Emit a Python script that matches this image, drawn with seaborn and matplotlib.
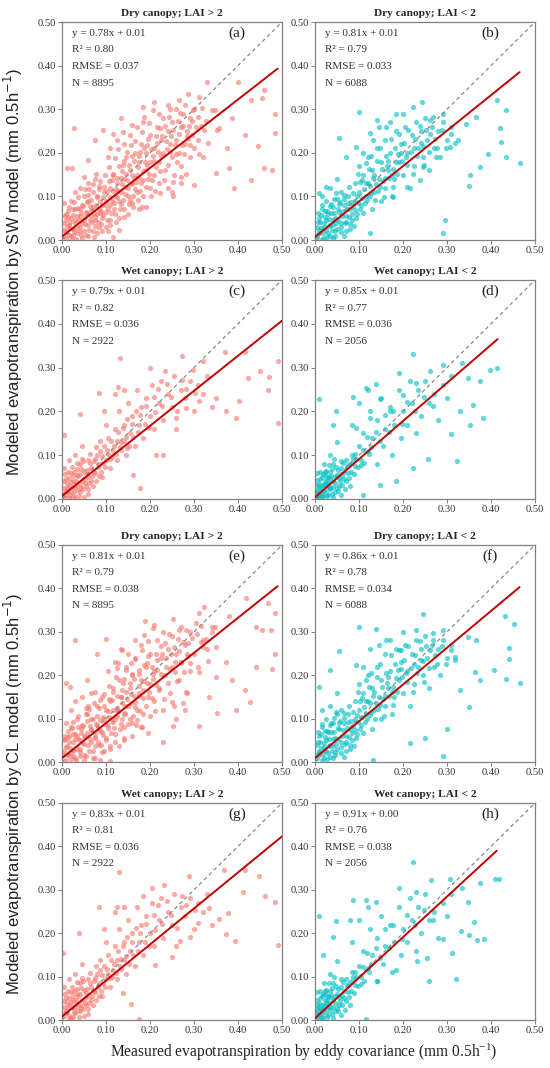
import matplotlib
matplotlib.use("Agg")
import matplotlib.pyplot as plt
import numpy as np
import pandas as pd
import seaborn as sns

# ---------------- data ----------------
titles = ["Dry canopy; LAI > 2", "Dry canopy; LAI < 2",
          "Wet canopy; LAI > 2", "Wet canopy; LAI < 2",
          "Dry canopy; LAI > 2", "Dry canopy; LAI < 2",
          "Wet canopy; LAI > 2", "Wet canopy; LAI < 2"]
letters = ["(a)", "(b)", "(c)", "(d)", "(e)", "(f)", "(g)", "(h)"]
equations = ["y = 0.78x + 0.01", "y = 0.81x + 0.01", "y = 0.79x + 0.01", "y = 0.85x + 0.01",
             "y = 0.81x + 0.01", "y = 0.86x + 0.01", "y = 0.83x + 0.01", "y = 0.91x + 0.00"]
r2_values = ["0.80", "0.79", "0.82", "0.77", "0.79", "0.78", "0.81", "0.76"]
rmse_values = ["0.037", "0.033", "0.036", "0.036", "0.038", "0.034", "0.036", "0.038"]
n_values = ["8895", "6088", "2922", "2056", "8895", "6088", "2922", "2056"]
# fitted line end points: (x0, y0, x1, y1)
fit_lines = [(0, 0.008, 0.49, 0.393), (0, 0.007, 0.465, 0.385),
             (0, 0.007, 0.50, 0.407), (0, 0.004, 0.415, 0.365),
             (0, 0.009, 0.49, 0.405), (0, 0.009, 0.465, 0.403),
             (0, 0.008, 0.50, 0.423), (0, 0.004, 0.413, 0.390)]
lai_group = [">2", "<2", ">2", "<2", ">2", "<2", ">2", "<2"]

tick_values = [0.0, 0.1, 0.2, 0.3, 0.4, 0.5]
tick_labels = ["0.00", "0.10", "0.20", "0.30", "0.40", "0.50"]

# (measured, modeled) pairs: a hand-read representative sample of each cloud
pts_a = [(0.005,0.01),(0.01,0.005),(0.01,0.02),(0.015,0.035),(0.02,0.01),(0.02,0.05),(0.025,0.025),
         (0.03,0.04),(0.03,0.07),(0.035,0.015),(0.04,0.03),(0.04,0.055),(0.045,0.08),(0.05,0.02),
         (0.05,0.045),(0.055,0.065),(0.06,0.035),(0.06,0.09),(0.065,0.055),(0.07,0.02),(0.07,0.075),
         (0.075,0.045),(0.08,0.06),(0.08,0.1),(0.085,0.03),(0.09,0.08),(0.09,0.05),(0.095,0.11),
         (0.1,0.065),(0.1,0.09),(0.005,0.04),(0.01,0.06),(0.02,0.09),(0.03,0.11),(0.04,0.12),
         (0.05,0.1),(0.06,0.13),(0.07,0.11),(0.075,0.14),(0.085,0.125),(0.015,0.075),(0.045,0.005),
         (0.06,0.01),(0.08,0.015),(0.1,0.03),(0.11,0.045),(0.105,0.02),
         (0.11,0.08),(0.11,0.12),(0.115,0.15),(0.12,0.1),(0.12,0.06),(0.125,0.13),(0.13,0.09),
         (0.13,0.17),(0.135,0.11),(0.14,0.07),(0.14,0.14),(0.145,0.19),(0.15,0.12),(0.15,0.1),
         (0.155,0.16),(0.16,0.085),(0.16,0.13),(0.165,0.2),(0.17,0.11),(0.17,0.15),(0.175,0.18),
         (0.18,0.13),(0.18,0.22),(0.185,0.1),(0.19,0.16),(0.19,0.2),(0.195,0.14),(0.2,0.12),
         (0.2,0.18),(0.2,0.24),(0.105,0.19),(0.11,0.21),(0.125,0.23),(0.14,0.22),(0.155,0.24),
         (0.17,0.26),(0.185,0.27),(0.13,0.05),(0.15,0.06),(0.175,0.07),
         (0.21,0.15),(0.21,0.21),(0.215,0.26),(0.22,0.13),(0.22,0.18),(0.225,0.23),(0.23,0.2),
         (0.23,0.28),(0.235,0.16),(0.24,0.25),(0.24,0.12),(0.245,0.22),(0.25,0.19),(0.25,0.27),
         (0.255,0.15),(0.26,0.23),(0.26,0.3),(0.265,0.2),(0.27,0.26),(0.27,0.17),(0.275,0.29),
         (0.28,0.22),(0.285,0.25),(0.29,0.19),(0.29,0.28),(0.295,0.24),(0.3,0.21),(0.3,0.3),
         (0.305,0.26),(0.31,0.23),(0.22,0.29),(0.245,0.3),(0.28,0.31),(0.25,0.11),(0.27,0.13),
         (0.028,0.256),(0.33,0.363),(0.40,0.363),(0.46,0.343),(0.485,0.29),(0.455,0.325),
         (0.43,0.32),(0.485,0.245),(0.445,0.215),(0.458,0.165),(0.478,0.16),(0.43,0.137),
         (0.39,0.12),(0.417,0.24),(0.375,0.21),(0.38,0.165),(0.35,0.153),(0.32,0.19),
         (0.357,0.256),(0.387,0.279),(0.342,0.298),(0.30,0.126),(0.27,0.145),(0.252,0.10),
         (0.222,0.107),(0.192,0.076),(0.162,0.076),(0.13,0.023),(0.117,0.008),(0.086,0.061),
         (0.004,0.084),(0.011,0.164),(0.023,0.164),(0.049,0.145),(0.06,0.183),(0.075,0.229),
         (0.094,0.252),(0.117,0.244),(0.135,0.279),(0.158,0.263),(0.184,0.305),(0.21,0.317),
         (0.24,0.309),(0.267,0.32),(0.286,0.336),(0.312,0.328),(0.297,0.298)]
dense_a = [(0.012,0.031),(0.008,0.047),(0.014,0.066),(0.022,0.002),(0.018,0.041),(0.024,0.072),
           (0.032,0.003),(0.028,0.021),(0.033,0.056),(0.027,0.087),(0.043,0.011),(0.038,0.046),
           (0.042,0.071),(0.037,0.098),(0.052,0.036),(0.048,0.077),(0.053,0.118),(0.062,0.022),
           (0.057,0.061),(0.063,0.077),(0.058,0.104),(0.072,0.006),(0.068,0.042),(0.073,0.061),
           (0.067,0.092),(0.071,0.128),(0.082,0.042),(0.078,0.081),(0.083,0.118),(0.077,0.152),
           (0.092,0.021),(0.088,0.066),(0.093,0.098),(0.087,0.136),(0.102,0.046),(0.098,0.081),
           (0.103,0.112),(0.097,0.148),(0.112,0.062),(0.108,0.098),(0.113,0.137),(0.107,0.168),
           (0.122,0.042),(0.118,0.086),(0.123,0.118),(0.117,0.152),(0.121,0.188),(0.132,0.072),
           (0.128,0.112),(0.133,0.142),(0.127,0.208),(0.142,0.052),(0.138,0.092),(0.143,0.122),
           (0.137,0.158),(0.141,0.182),(0.138,0.248),(0.152,0.082),(0.148,0.138),(0.153,0.172),
           (0.147,0.202),(0.162,0.102),(0.158,0.148),(0.163,0.182),(0.157,0.218),(0.172,0.092),
           (0.168,0.132),(0.173,0.168),(0.167,0.228),(0.182,0.076),(0.178,0.112),(0.183,0.158),
           (0.177,0.202),(0.181,0.248),(0.192,0.122),(0.188,0.178),(0.193,0.218),(0.187,0.282),
           (0.202,0.102),(0.198,0.152),(0.203,0.208),(0.197,0.268),(0.212,0.112),(0.208,0.182),
           (0.213,0.238),(0.207,0.298),(0.222,0.158),(0.218,0.202),(0.223,0.258),(0.232,0.138),
           (0.228,0.238),(0.233,0.262),(0.242,0.172),(0.238,0.208),(0.243,0.282),(0.252,0.132),
           (0.248,0.238),(0.253,0.252),(0.262,0.178),(0.258,0.198),(0.263,0.272),(0.272,0.218),
           (0.268,0.292),(0.282,0.152),(0.278,0.198),(0.283,0.238),(0.292,0.218),(0.288,0.262),
           (0.312,0.198),(0.308,0.282),(0.322,0.252),(0.318,0.302),(0.332,0.222),(0.328,0.272),
           (0.352,0.252),(0.348,0.298)]
core_a = [(0.004,0.022),(0.006,0.055),(0.016,0.012),(0.013,0.052),(0.019,0.028),(0.024,0.058),
          (0.026,0.011),(0.029,0.047),(0.034,0.027),(0.036,0.074),(0.041,0.021),(0.044,0.062),
          (0.046,0.039),(0.054,0.012),(0.053,0.052),(0.056,0.088),(0.064,0.047),(0.066,0.068),
          (0.061,0.116),(0.074,0.032),(0.076,0.053),(0.079,0.098),(0.084,0.071),(0.086,0.09),
          (0.089,0.036),(0.094,0.058),(0.096,0.122),(0.104,0.072),(0.106,0.136),(0.109,0.034),
          (0.114,0.09),(0.116,0.112),(0.119,0.072),(0.124,0.142),(0.126,0.098),(0.134,0.082),
          (0.136,0.128),(0.139,0.172),(0.144,0.106),(0.146,0.152),(0.154,0.092),(0.156,0.128),
          (0.159,0.192),(0.164,0.142),(0.166,0.118),(0.174,0.142),(0.176,0.192),(0.184,0.138),
          (0.186,0.212),(0.194,0.172),(0.196,0.232),(0.204,0.138),(0.206,0.192),(0.214,0.168),
          (0.216,0.222),(0.226,0.192),(0.236,0.228),(0.246,0.202),(0.256,0.218),(0.266,0.242),
          (0.276,0.262),(0.286,0.232),(0.296,0.272),(0.316,0.262)]

pts_b = [(0.005,0.005),(0.005,0.03),(0.01,0.015),(0.01,0.05),(0.015,0.07),(0.02,0.005),(0.02,0.03),
         (0.025,0.045),(0.025,0.09),(0.03,0.015),(0.03,0.06),(0.035,0.035),(0.04,0.005),(0.04,0.075),
         (0.045,0.05),(0.05,0.025),(0.05,0.095),(0.055,0.065),(0.06,0.04),(0.06,0.11),(0.065,0.08),
         (0.07,0.055),(0.07,0.02),(0.075,0.1),(0.08,0.07),(0.085,0.045),(0.09,0.09),(0.09,0.13),
         (0.095,0.06),(0.1,0.11),(0.015,0.1),(0.035,0.12),(0.05,0.14),(0.045,0.01),(0.065,0.01),
         (0.08,0.025),
         (0.105,0.08),(0.11,0.15),(0.115,0.1),(0.12,0.13),(0.12,0.19),(0.13,0.07),(0.13,0.16),
         (0.135,0.11),(0.14,0.21),(0.145,0.14),(0.15,0.09),(0.15,0.18),(0.16,0.12),(0.16,0.23),
         (0.165,0.16),(0.17,0.2),(0.175,0.1),(0.18,0.14),(0.185,0.25),(0.19,0.18),(0.195,0.22),
         (0.2,0.15),(0.205,0.26),(0.21,0.2),(0.215,0.12),(0.22,0.24),(0.225,0.17),(0.23,0.27),
         (0.235,0.21),(0.24,0.25),(0.245,0.19),(0.25,0.28),(0.255,0.23),(0.26,0.16),(0.265,0.26),
         (0.27,0.21),(0.28,0.25),(0.285,0.19),(0.29,0.27),(0.3,0.23),(0.31,0.26),(0.1,0.17),
         (0.11,0.2),(0.125,0.245),(0.145,0.26),(0.17,0.27),(0.2,0.29),
         (0.10,0.294),(0.055,0.235),(0.14,0.276),(0.244,0.317),(0.223,0.305),(0.185,0.29),
         (0.413,0.32),(0.434,0.299),(0.42,0.256),(0.423,0.225),(0.466,0.176),(0.435,0.19),
         (0.394,0.198),(0.375,0.168),(0.352,0.149),(0.35,0.124),(0.295,0.046),(0.291,0.015),
         (0.367,0.282),(0.344,0.267),(0.326,0.229),(0.306,0.214),(0.276,0.191),(0.246,0.168),
         (0.238,0.137),(0.208,0.122),(0.177,0.099),(0.124,0.015),(0.01,0.107),(0.025,0.122),
         (0.291,0.29),(0.261,0.275),(0.162,0.26),(0.132,0.229),(0.094,0.214),(0.071,0.191)]
dense_b = [(0.008,0.022),(0.012,0.041),(0.007,0.062),(0.018,0.016),(0.022,0.052),(0.017,0.081),
           (0.028,0.006),(0.032,0.032),(0.027,0.066),(0.033,0.078),(0.038,0.022),(0.042,0.047),
           (0.037,0.062),(0.043,0.094),(0.048,0.038),(0.052,0.072),(0.047,0.108),(0.058,0.018),
           (0.062,0.056),(0.057,0.088),(0.068,0.038),(0.072,0.072),(0.067,0.104),(0.078,0.052),
           (0.082,0.088),(0.077,0.121),(0.088,0.032),(0.092,0.068),(0.087,0.108),(0.098,0.086),
           (0.102,0.132),(0.097,0.152),(0.108,0.062),(0.112,0.118),(0.107,0.138),(0.118,0.092),
           (0.122,0.162),(0.117,0.176),(0.128,0.108),(0.132,0.142),(0.127,0.192),(0.138,0.128),
           (0.142,0.182),(0.137,0.092),(0.148,0.122),(0.152,0.162),(0.147,0.212),(0.158,0.142),
           (0.162,0.192),(0.157,0.098),(0.168,0.142),(0.172,0.232),(0.167,0.182),(0.178,0.162),
           (0.182,0.212),(0.177,0.122),(0.188,0.198),(0.192,0.242),(0.187,0.152),(0.198,0.182),
           (0.202,0.222),(0.208,0.172),(0.212,0.252),(0.218,0.202),(0.222,0.152),(0.228,0.232),
           (0.232,0.192),(0.238,0.262),(0.242,0.222),(0.248,0.172),(0.252,0.252),(0.258,0.202),
           (0.262,0.242),(0.268,0.282),(0.272,0.232),(0.278,0.212),(0.288,0.252),(0.298,0.212),
           (0.308,0.242),(0.318,0.222)]
core_b = [(0.004,0.012),(0.006,0.042),(0.013,0.028),(0.014,0.058),(0.016,0.002),(0.021,0.04),
          (0.023,0.066),(0.026,0.022),(0.031,0.048),(0.034,0.009),(0.036,0.083),(0.041,0.034),
          (0.044,0.062),(0.046,0.021),(0.053,0.047),(0.055,0.082),(0.059,0.03),(0.063,0.067),
          (0.066,0.094),(0.071,0.042),(0.074,0.085),(0.079,0.036),(0.083,0.06),(0.086,0.077),
          (0.093,0.05),(0.096,0.1),(0.103,0.07),(0.106,0.096),(0.113,0.085),(0.116,0.13),
          (0.124,0.1),(0.126,0.125),(0.134,0.15),(0.143,0.112),(0.154,0.135),(0.163,0.17),
          (0.174,0.15),(0.184,0.18),(0.196,0.2),(0.206,0.19),(0.226,0.21),(0.246,0.215)]

pts_c = [(0.005,0.005),(0.005,0.025),(0.01,0.045),(0.01,0.01),(0.015,0.03),(0.02,0.06),(0.02,0.015),
         (0.025,0.04),(0.03,0.005),(0.03,0.025),(0.035,0.055),(0.04,0.015),(0.04,0.08),(0.045,0.04),
         (0.05,0.065),(0.05,0.005),(0.055,0.03),(0.06,0.05),(0.06,0.09),(0.065,0.07),(0.07,0.03),
         (0.075,0.06),(0.08,0.1),(0.085,0.08),(0.09,0.05),(0.095,0.12),(0.1,0.09),(0.005,0.07),
         (0.015,0.09),(0.03,0.1),(0.045,0.12),
         (0.105,0.14),(0.11,0.07),(0.115,0.11),(0.12,0.16),(0.125,0.09),(0.13,0.2),(0.135,0.13),
         (0.14,0.17),(0.145,0.1),(0.15,0.22),(0.155,0.15),(0.16,0.19),(0.165,0.12),(0.17,0.25),
         (0.175,0.17),(0.18,0.21),(0.185,0.14),(0.19,0.23),(0.2,0.19),(0.205,0.26),(0.21,0.16),
         (0.22,0.22),(0.225,0.27),(0.23,0.18),(0.24,0.24),(0.25,0.21),(0.255,0.28),(0.26,0.16),
         (0.27,0.25),(0.28,0.23),(0.29,0.27),(0.3,0.2),(0.31,0.26),(0.32,0.24),(0.33,0.28),
         (0.34,0.21),(0.12,0.24),(0.14,0.25),(0.095,0.2),(0.1,0.17),
         (0.132,0.321),(0.273,0.326),(0.005,0.147),(0.041,0.194),(0.085,0.242),(0.128,0.255),
         (0.2,0.30),(0.233,0.292),(0.297,0.295),(0.321,0.315),(0.37,0.335),(0.417,0.335),
         (0.423,0.276),(0.402,0.223),(0.395,0.185),(0.372,0.20),(0.35,0.23),(0.45,0.292),
         (0.47,0.278),(0.468,0.248),(0.492,0.173),(0.49,0.316),(0.312,0.223),(0.282,0.208),
         (0.259,0.185),(0.23,0.101),(0.214,0.101),(0.177,0.024),(0.162,0.055),(0.147,0.116)]
dense_c = [(0.008,0.018),(0.012,0.036),(0.007,0.056),(0.018,0.008),(0.022,0.028),(0.017,0.047),
           (0.023,0.072),(0.028,0.016),(0.032,0.042),(0.027,0.062),(0.033,0.082),(0.038,0.006),
           (0.042,0.032),(0.037,0.052),(0.043,0.068),(0.048,0.022),(0.052,0.046),(0.047,0.086),
           (0.058,0.012),(0.062,0.036),(0.057,0.066),(0.063,0.102),(0.068,0.052),(0.072,0.086),
           (0.078,0.042),(0.082,0.072),(0.077,0.118),(0.088,0.062),(0.092,0.098),(0.087,0.132),
           (0.098,0.072),(0.102,0.112),(0.108,0.092),(0.112,0.132),(0.118,0.122),(0.122,0.102),
           (0.128,0.152),(0.132,0.118),(0.138,0.162),(0.142,0.132),(0.148,0.182),(0.152,0.122),
           (0.158,0.172),(0.162,0.142),(0.168,0.202),(0.172,0.152),(0.178,0.192),(0.188,0.172),
           (0.192,0.212),(0.198,0.162),(0.208,0.232),(0.212,0.198),(0.218,0.252),(0.228,0.212),
           (0.238,0.262),(0.248,0.232),(0.262,0.202),(0.272,0.272),(0.282,0.252),(0.302,0.242)]
core_c = [(0.003,0.012),(0.004,0.04),(0.011,0.024),(0.013,0.062),(0.015,0.002),(0.021,0.038),
          (0.024,0.052),(0.026,0.005),(0.031,0.033),(0.034,0.068),(0.036,0.02),(0.041,0.056),
          (0.044,0.026),(0.046,0.092),(0.053,0.036),(0.055,0.058),(0.059,0.022),(0.064,0.082),
          (0.067,0.042),(0.073,0.062),(0.076,0.092),(0.083,0.052),(0.086,0.11),(0.093,0.082),
          (0.104,0.102),(0.114,0.095),(0.124,0.132),(0.135,0.112),(0.146,0.142)]

pts_d = [(0.003,0.003),(0.005,0.02),(0.01,0.01),(0.01,0.035),(0.015,0.005),(0.015,0.05),(0.02,0.02),
         (0.025,0.035),(0.025,0.065),(0.03,0.01),(0.03,0.05),(0.035,0.025),(0.04,0.04),(0.04,0.08),
         (0.045,0.015),(0.05,0.055),(0.055,0.03),(0.06,0.07),(0.065,0.045),(0.07,0.09),(0.075,0.06),
         (0.08,0.03),(0.085,0.1),(0.09,0.075),(0.1,0.12),(0.005,0.06),(0.02,0.08),(0.035,0.1),
         (0.05,0.13),(0.06,0.01),
         (0.105,0.09),(0.11,0.15),(0.12,0.11),(0.125,0.2),(0.13,0.14),(0.14,0.08),(0.14,0.18),
         (0.15,0.23),(0.155,0.12),(0.16,0.16),(0.17,0.21),(0.175,0.1),(0.18,0.17),(0.19,0.25),
         (0.195,0.14),(0.2,0.2),(0.21,0.17),(0.215,0.27),(0.22,0.22),(0.23,0.15),(0.235,0.25),
         (0.24,0.19),(0.25,0.27),(0.26,0.22),(0.27,0.24),(0.28,0.18),(0.29,0.26),(0.3,0.23),
         (0.31,0.28),(0.085,0.17),(0.1,0.22),(0.12,0.25),
         (0.008,0.229),(0.048,0.20),(0.04,0.17),(0.086,0.234),(0.116,0.253),(0.138,0.263),
         (0.223,0.332),(0.192,0.288),(0.23,0.265),(0.261,0.292),(0.291,0.307),(0.333,0.311),
         (0.348,0.276),(0.375,0.269),(0.398,0.295),(0.413,0.299),(0.358,0.215),(0.382,0.185),
         (0.352,0.169),(0.329,0.20),(0.31,0.148),(0.322,0.087),(0.257,0.092),(0.223,0.07),
         (0.185,0.04),(0.147,0.032),(0.109,0.009),(0.147,0.229),(0.17,0.20),(0.2,0.238),
         (0.124,0.185),(0.094,0.162)]
dense_d = [(0.006,0.012),(0.009,0.027),(0.005,0.043),(0.013,0.018),(0.016,0.032),(0.012,0.062),
           (0.019,0.006),(0.022,0.042),(0.018,0.056),(0.026,0.016),(0.029,0.028),(0.024,0.052),
           (0.032,0.036),(0.035,0.062),(0.031,0.078),(0.038,0.012),(0.042,0.028),(0.037,0.052),
           (0.045,0.036),(0.048,0.072),(0.044,0.092),(0.052,0.018),(0.055,0.048),(0.058,0.086),
           (0.062,0.032),(0.066,0.062),(0.069,0.022),(0.072,0.072),(0.078,0.048),(0.082,0.082),
           (0.088,0.058),(0.092,0.102),(0.098,0.072),(0.108,0.112),(0.112,0.082),(0.118,0.142),
           (0.128,0.118),(0.138,0.152),(0.148,0.132),(0.158,0.192),(0.168,0.152),(0.178,0.202),
           (0.198,0.172),(0.208,0.222),(0.228,0.202),(0.248,0.232),(0.268,0.212)]
core_d = [(0.003,0.016),(0.004,0.032),(0.008,0.004),(0.011,0.046),(0.014,0.024),(0.017,0.014),
          (0.021,0.032),(0.023,0.062),(0.027,0.042),(0.028,0.006),(0.033,0.022),(0.034,0.048),
          (0.039,0.068),(0.041,0.004),(0.046,0.052),(0.049,0.026),(0.053,0.066),(0.057,0.04),
          (0.061,0.052),(0.064,0.082),(0.071,0.04),(0.076,0.078),(0.081,0.062),(0.086,0.092),
          (0.094,0.092),(0.104,0.078),(0.122,0.102)]

pts_e = [(0.005,0.015),(0.01,0.005),(0.01,0.035),(0.015,0.06),(0.02,0.02),(0.02,0.08),(0.025,0.045),
         (0.03,0.01),(0.03,0.065),(0.035,0.1),(0.04,0.03),(0.04,0.05),(0.045,0.085),(0.05,0.015),
         (0.05,0.06),(0.055,0.11),(0.06,0.04),(0.065,0.075),(0.07,0.025),(0.07,0.1),(0.075,0.055),
         (0.08,0.085),(0.08,0.13),(0.085,0.04),(0.09,0.07),(0.095,0.1),(0.1,0.055),(0.1,0.12),
         (0.005,0.05),(0.01,0.09),(0.02,0.12),(0.03,0.14),(0.045,0.15),(0.06,0.13),(0.065,0.16),
         (0.09,0.15),(0.05,0.005),(0.075,0.01),(0.095,0.025),(0.11,0.03),
         (0.105,0.085),(0.11,0.14),(0.115,0.17),(0.12,0.1),(0.12,0.065),(0.125,0.12),(0.13,0.19),
         (0.135,0.15),(0.14,0.08),(0.14,0.11),(0.145,0.22),(0.15,0.13),(0.155,0.17),(0.16,0.09),
         (0.16,0.2),(0.165,0.24),(0.17,0.12),(0.175,0.16),(0.18,0.19),(0.18,0.27),(0.185,0.11),
         (0.19,0.22),(0.195,0.15),(0.2,0.18),(0.2,0.25),(0.105,0.21),(0.12,0.23),(0.135,0.26),
         (0.15,0.25),(0.165,0.28),(0.14,0.05),(0.16,0.06),(0.18,0.08),
         (0.21,0.14),(0.21,0.21),(0.215,0.28),(0.22,0.17),(0.225,0.24),(0.23,0.12),(0.23,0.3),
         (0.235,0.2),(0.24,0.26),(0.245,0.16),(0.25,0.22),(0.25,0.29),(0.255,0.13),(0.26,0.25),
         (0.265,0.19),(0.27,0.31),(0.27,0.23),(0.28,0.27),(0.285,0.16),(0.29,0.21),(0.29,0.3),
         (0.3,0.25),(0.305,0.32),(0.31,0.22),(0.32,0.28),(0.33,0.26),(0.34,0.3),(0.26,0.1),
         (0.28,0.12),
         (0.03,0.282),(0.322,0.358),(0.419,0.379),(0.468,0.366),(0.485,0.343),(0.455,0.303),
         (0.44,0.311),(0.476,0.303),(0.485,0.25),(0.477,0.215),(0.44,0.219),(0.417,0.167),
         (0.395,0.12),(0.428,0.139),(0.387,0.189),(0.35,0.196),(0.372,0.23),(0.353,0.114),
         (0.312,0.082),(0.335,0.15),(0.274,0.135),(0.252,0.082),(0.229,0.047),(0.195,0.066),
         (0.169,0.085),(0.13,0.036),(0.109,0.002),(0.086,0.005),(0.008,0.182),(0.019,0.173),
         (0.056,0.19),(0.079,0.25),(0.10,0.284),(0.128,0.227),(0.189,0.326),(0.21,0.315),
         (0.252,0.33),(0.282,0.303),(0.312,0.344),(0.38,0.337),(0.342,0.311)]
dense_e = [(0.011,0.036),(0.007,0.052),(0.013,0.071),(0.021,0.006),(0.017,0.046),(0.023,0.078),
           (0.031,0.004),(0.027,0.027),(0.034,0.061),(0.026,0.093),(0.042,0.014),(0.037,0.052),
           (0.043,0.077),(0.036,0.106),(0.051,0.041),(0.047,0.083),(0.054,0.125),(0.061,0.026),
           (0.056,0.067),(0.064,0.083),(0.057,0.111),(0.071,0.009),(0.067,0.047),(0.074,0.067),
           (0.066,0.098),(0.072,0.136),(0.081,0.046),(0.077,0.087),(0.084,0.124),(0.076,0.162),
           (0.091,0.024),(0.087,0.071),(0.094,0.104),(0.086,0.143),(0.101,0.051),(0.097,0.087),
           (0.104,0.118),(0.096,0.156),(0.111,0.066),(0.107,0.104),(0.114,0.143),(0.106,0.176),
           (0.121,0.046),(0.117,0.092),(0.124,0.124),(0.116,0.161),(0.122,0.196),(0.131,0.077),
           (0.127,0.118),(0.134,0.149),(0.126,0.216),(0.141,0.056),(0.137,0.098),(0.144,0.129),
           (0.136,0.166),(0.142,0.191),(0.137,0.258),(0.151,0.087),(0.147,0.146),(0.154,0.181),
           (0.146,0.212),(0.161,0.107),(0.157,0.156),(0.164,0.191),(0.156,0.228),(0.171,0.097),
           (0.167,0.139),(0.174,0.176),(0.166,0.238),(0.181,0.081),(0.177,0.118),(0.184,0.166),
           (0.176,0.212),(0.182,0.258),(0.191,0.128),(0.187,0.186),(0.194,0.228),(0.186,0.292),
           (0.201,0.107),(0.197,0.161),(0.204,0.218),(0.196,0.278),(0.211,0.117),(0.207,0.191),
           (0.214,0.248),(0.206,0.308),(0.221,0.166),(0.217,0.212),(0.224,0.268),(0.231,0.146),
           (0.227,0.248),(0.234,0.274),(0.241,0.181),(0.237,0.218),(0.244,0.294),(0.251,0.139),
           (0.247,0.248),(0.254,0.264),(0.261,0.186),(0.257,0.208),(0.264,0.284),(0.271,0.228),
           (0.267,0.304),(0.281,0.161),(0.277,0.208),(0.284,0.248),(0.291,0.228),(0.287,0.274),
           (0.311,0.208),(0.307,0.294),(0.321,0.264),(0.317,0.314),(0.331,0.232),(0.327,0.284),
           (0.351,0.264),(0.347,0.312)]
core_e = [(0.004,0.026),(0.006,0.06),(0.016,0.015),(0.013,0.057),(0.019,0.032),(0.024,0.064),
          (0.026,0.013),(0.029,0.052),(0.034,0.031),(0.036,0.08),(0.041,0.024),(0.044,0.067),
          (0.046,0.043),(0.054,0.014),(0.053,0.057),(0.056,0.094),(0.064,0.052),(0.066,0.074),
          (0.061,0.123),(0.074,0.036),(0.076,0.058),(0.079,0.105),(0.084,0.077),(0.086,0.097),
          (0.089,0.04),(0.094,0.063),(0.096,0.13),(0.104,0.078),(0.106,0.145),(0.109,0.038),
          (0.114,0.097),(0.116,0.12),(0.119,0.078),(0.124,0.151),(0.126,0.105),(0.134,0.088),
          (0.136,0.136),(0.139,0.182),(0.144,0.113),(0.146,0.161),(0.154,0.098),(0.156,0.136),
          (0.159,0.203),(0.164,0.151),(0.166,0.126),(0.174,0.151),(0.176,0.203),(0.184,0.147),
          (0.186,0.224),(0.194,0.182),(0.196,0.245),(0.204,0.147),(0.206,0.203),(0.214,0.178),
          (0.216,0.234),(0.226,0.203),(0.236,0.24),(0.246,0.214),(0.256,0.23),(0.266,0.255),
          (0.276,0.276),(0.286,0.245),(0.296,0.286),(0.316,0.276)]

pts_f = [(0.005,0.01),(0.005,0.04),(0.01,0.02),(0.01,0.06),(0.015,0.08),(0.02,0.01),(0.02,0.035),
         (0.025,0.05),(0.025,0.1),(0.03,0.02),(0.03,0.07),(0.035,0.04),(0.04,0.01),(0.04,0.09),
         (0.045,0.055),(0.05,0.03),(0.05,0.11),(0.055,0.075),(0.06,0.045),(0.06,0.12),(0.065,0.09),
         (0.07,0.06),(0.07,0.025),(0.075,0.11),(0.08,0.075),(0.085,0.05),(0.09,0.1),(0.09,0.14),
         (0.095,0.065),(0.1,0.12),(0.015,0.12),(0.035,0.13),(0.05,0.16),(0.045,0.015),(0.065,0.012),
         (0.08,0.03),
         (0.105,0.085),(0.11,0.16),(0.115,0.11),(0.12,0.14),(0.12,0.2),(0.13,0.075),(0.13,0.17),
         (0.135,0.12),(0.14,0.22),(0.145,0.15),(0.15,0.1),(0.15,0.19),(0.16,0.13),(0.16,0.25),
         (0.165,0.17),(0.17,0.21),(0.175,0.11),(0.18,0.15),(0.185,0.26),(0.19,0.19),(0.195,0.23),
         (0.2,0.16),(0.205,0.27),(0.21,0.21),(0.215,0.13),(0.22,0.25),(0.225,0.18),(0.23,0.28),
         (0.235,0.22),(0.24,0.26),(0.245,0.2),(0.25,0.29),(0.255,0.24),(0.26,0.17),(0.265,0.27),
         (0.27,0.22),(0.28,0.26),(0.285,0.2),(0.29,0.28),(0.3,0.24),(0.31,0.27),(0.1,0.18),
         (0.11,0.22),(0.125,0.26),(0.145,0.27),(0.17,0.28),(0.2,0.3),
         (0.10,0.311),(0.055,0.256),(0.246,0.341),(0.23,0.303),(0.138,0.307),(0.162,0.28),
         (0.432,0.337),(0.453,0.318),(0.441,0.263),(0.441,0.238),(0.466,0.181),(0.434,0.192),
         (0.407,0.211),(0.375,0.189),(0.363,0.208),(0.35,0.127),(0.329,0.166),(0.299,0.076),
         (0.291,0.013),(0.249,0.055),(0.215,0.044),(0.132,0.005),(0.367,0.28),(0.348,0.288),
         (0.318,0.242),(0.291,0.303),(0.268,0.28),(0.196,0.257),(0.01,0.173),(0.033,0.211),
         (0.094,0.223)]
dense_f = [(0.008,0.026),(0.012,0.046),(0.007,0.068),(0.018,0.019),(0.022,0.057),(0.017,0.088),
           (0.028,0.008),(0.032,0.036),(0.027,0.072),(0.033,0.085),(0.038,0.025),(0.042,0.052),
           (0.037,0.068),(0.043,0.102),(0.048,0.042),(0.052,0.078),(0.047,0.116),(0.058,0.021),
           (0.062,0.061),(0.057,0.095),(0.068,0.042),(0.072,0.078),(0.067,0.112),(0.078,0.057),
           (0.082,0.095),(0.077,0.13),(0.088,0.036),(0.092,0.074),(0.087,0.116),(0.098,0.093),
           (0.102,0.141),(0.097,0.162),(0.108,0.067),(0.112,0.126),(0.107,0.148),(0.118,0.099),
           (0.122,0.173),(0.117,0.188),(0.128,0.116),(0.132,0.152),(0.127,0.205),(0.138,0.137),
           (0.142,0.195),(0.137,0.099),(0.148,0.131),(0.152,0.173),(0.147,0.226),(0.158,0.152),
           (0.162,0.205),(0.157,0.105),(0.168,0.152),(0.172,0.247),(0.167,0.195),(0.178,0.173),
           (0.182,0.226),(0.177,0.131),(0.188,0.212),(0.192,0.257),(0.187,0.162),(0.198,0.195),
           (0.202,0.236),(0.208,0.184),(0.212,0.268),(0.218,0.216),(0.222,0.162),(0.228,0.247),
           (0.232,0.205),(0.238,0.278),(0.242,0.236),(0.248,0.184),(0.252,0.268),(0.258,0.216),
           (0.262,0.257),(0.268,0.298),(0.272,0.247),(0.278,0.226),(0.288,0.268),(0.298,0.226),
           (0.308,0.257),(0.318,0.236)]
core_f = [(0.004,0.015),(0.006,0.047),(0.013,0.032),(0.014,0.064),(0.016,0.004),(0.021,0.044),
          (0.023,0.072),(0.026,0.025),(0.031,0.053),(0.034,0.011),(0.036,0.09),(0.041,0.038),
          (0.044,0.068),(0.046,0.024),(0.053,0.052),(0.055,0.089),(0.059,0.034),(0.063,0.073),
          (0.066,0.102),(0.071,0.047),(0.074,0.092),(0.079,0.04),(0.083,0.066),(0.086,0.084),
          (0.093,0.055),(0.096,0.108),(0.103,0.076),(0.106,0.104),(0.113,0.092),(0.116,0.14),
          (0.124,0.108),(0.126,0.135),(0.134,0.161),(0.143,0.121),(0.154,0.146),(0.163,0.183),
          (0.174,0.162),(0.184,0.194),(0.196,0.215),(0.206,0.204),(0.226,0.226),(0.246,0.232)]

pts_g = [(0.005,0.01),(0.005,0.03),(0.01,0.05),(0.01,0.015),(0.015,0.035),(0.02,0.065),(0.02,0.005),
         (0.025,0.045),(0.03,0.015),(0.03,0.03),(0.035,0.06),(0.04,0.02),(0.04,0.085),(0.045,0.045),
         (0.05,0.07),(0.05,0.01),(0.055,0.035),(0.06,0.055),(0.06,0.095),(0.065,0.075),(0.07,0.035),
         (0.075,0.065),(0.08,0.105),(0.085,0.085),(0.09,0.055),(0.095,0.125),(0.1,0.095),
         (0.005,0.075),(0.015,0.095),(0.03,0.105),(0.045,0.13),
         (0.105,0.15),(0.11,0.075),(0.115,0.115),(0.12,0.17),(0.125,0.095),(0.13,0.21),(0.135,0.14),
         (0.14,0.18),(0.145,0.105),(0.15,0.23),(0.155,0.16),(0.16,0.2),(0.165,0.125),(0.17,0.26),
         (0.175,0.18),(0.18,0.22),(0.185,0.15),(0.19,0.24),(0.2,0.2),(0.205,0.27),(0.21,0.17),
         (0.22,0.23),(0.225,0.28),(0.23,0.19),(0.24,0.25),(0.25,0.22),(0.255,0.29),(0.26,0.17),
         (0.27,0.26),(0.28,0.24),(0.29,0.28),(0.3,0.21),(0.31,0.27),(0.32,0.25),(0.33,0.29),
         (0.34,0.22),(0.12,0.25),(0.14,0.26),(0.095,0.21),(0.1,0.18),
         (0.129,0.342),(0.002,0.154),(0.038,0.20),(0.083,0.26),(0.126,0.26),(0.184,0.285),
         (0.204,0.303),(0.288,0.332),(0.232,0.312),(0.369,0.346),(0.416,0.346),(0.447,0.332),
         (0.412,0.296),(0.461,0.286),(0.483,0.273),(0.377,0.246),(0.373,0.198),(0.393,0.181),
         (0.356,0.232),(0.333,0.258),(0.269,0.181),(0.25,0.146),(0.211,0.127),(0.175,0.002),
         (0.156,0.038),(0.138,0.062),(0.49,0.172),(0.31,0.223),(0.291,0.192)]
dense_g = [(0.008,0.021),(0.012,0.04),(0.007,0.06),(0.018,0.01),(0.022,0.031),(0.017,0.051),
           (0.023,0.077),(0.028,0.019),(0.032,0.046),(0.027,0.066),(0.033,0.087),(0.038,0.008),
           (0.042,0.035),(0.037,0.056),(0.043,0.073),(0.048,0.025),(0.052,0.05),(0.047,0.091),
           (0.058,0.014),(0.062,0.04),(0.057,0.071),(0.063,0.108),(0.068,0.056),(0.072,0.091),
           (0.078,0.046),(0.082,0.077),(0.077,0.124),(0.088,0.066),(0.092,0.104),(0.087,0.139),
           (0.098,0.077),(0.102,0.118),(0.108,0.097),(0.112,0.139),(0.118,0.129),(0.122,0.108),
           (0.128,0.16),(0.132,0.124),(0.138,0.17),(0.142,0.139),(0.148,0.191),(0.152,0.129),
           (0.158,0.18),(0.162,0.15),(0.168,0.212),(0.172,0.16),(0.178,0.201),(0.188,0.18),
           (0.192,0.222),(0.198,0.17),(0.208,0.243),(0.212,0.208),(0.218,0.264),(0.228,0.222),
           (0.238,0.275),(0.248,0.243),(0.262,0.212),(0.272,0.285),(0.282,0.264),(0.302,0.254)]
core_g = [(0.003,0.016),(0.004,0.044),(0.011,0.028),(0.013,0.066),(0.015,0.004),(0.021,0.042),
          (0.024,0.056),(0.026,0.008),(0.031,0.037),(0.034,0.072),(0.036,0.024),(0.041,0.06),
          (0.044,0.03),(0.046,0.096),(0.053,0.04),(0.055,0.062),(0.059,0.026),(0.064,0.086),
          (0.067,0.046),(0.073,0.066),(0.076,0.096),(0.083,0.056),(0.086,0.115),(0.093,0.086),
          (0.104,0.107),(0.114,0.1),(0.124,0.138),(0.135,0.117),(0.146,0.148)]

pts_h = [(0.003,0.005),(0.005,0.025),(0.01,0.012),(0.01,0.04),(0.015,0.005),(0.015,0.055),(0.02,0.025),
         (0.025,0.04),(0.025,0.07),(0.03,0.012),(0.03,0.055),(0.035,0.03),(0.04,0.045),(0.04,0.085),
         (0.045,0.02),(0.05,0.06),(0.055,0.035),(0.06,0.075),(0.065,0.05),(0.07,0.095),(0.075,0.065),
         (0.08,0.035),(0.085,0.11),(0.09,0.08),(0.1,0.125),(0.005,0.065),(0.02,0.085),(0.035,0.105),
         (0.05,0.135),(0.06,0.012),
         (0.105,0.1),(0.11,0.16),(0.12,0.12),(0.125,0.21),(0.13,0.15),(0.14,0.09),(0.14,0.19),
         (0.15,0.24),(0.155,0.13),(0.16,0.17),(0.17,0.22),(0.175,0.11),(0.18,0.18),(0.19,0.26),
         (0.195,0.15),(0.2,0.21),(0.21,0.18),(0.215,0.28),(0.22,0.23),(0.23,0.16),(0.235,0.26),
         (0.24,0.2),(0.25,0.29),(0.26,0.23),(0.27,0.25),(0.28,0.19),(0.29,0.27),(0.3,0.24),
         (0.31,0.29),(0.085,0.18),(0.1,0.23),(0.12,0.26),
         (0.008,0.24),(0.018,0.15),(0.04,0.192),(0.048,0.227),(0.079,0.231),(0.086,0.276),
         (0.116,0.276),(0.138,0.273),(0.223,0.363),(0.192,0.303),(0.23,0.295),(0.264,0.322),
         (0.306,0.326),(0.333,0.305),(0.348,0.273),(0.375,0.316),(0.41,0.326),(0.418,0.324),
         (0.361,0.225),(0.349,0.196),(0.368,0.185),(0.384,0.187),(0.332,0.205),(0.311,0.154),
         (0.321,0.095),(0.258,0.089),(0.292,0.187),(0.254,0.143),(0.231,0.135),(0.185,0.116),
         (0.14,0.089),(0.117,0.002)]
dense_h = [(0.006,0.014),(0.009,0.03),(0.005,0.047),(0.013,0.02),(0.016,0.035),(0.012,0.067),
           (0.019,0.007),(0.022,0.046),(0.018,0.061),(0.026,0.018),(0.029,0.031),(0.024,0.057),
           (0.032,0.04),(0.035,0.067),(0.031,0.085),(0.038,0.014),(0.042,0.031),(0.037,0.057),
           (0.045,0.04),(0.048,0.078),(0.044,0.1),(0.052,0.02),(0.055,0.052),(0.058,0.094),
           (0.062,0.035),(0.066,0.067),(0.069,0.024),(0.072,0.078),(0.078,0.052),(0.082,0.089),
           (0.088,0.063),(0.092,0.111),(0.098,0.078),(0.108,0.122),(0.112,0.089),(0.118,0.155),
           (0.128,0.128),(0.138,0.165),(0.148,0.144),(0.158,0.209),(0.168,0.165),(0.178,0.22),
           (0.198,0.187),(0.208,0.242),(0.228,0.22),(0.248,0.253),(0.268,0.231)]
core_h = [(0.003,0.018),(0.004,0.035),(0.008,0.005),(0.011,0.05),(0.014,0.026),(0.017,0.015),
          (0.021,0.035),(0.023,0.067),(0.027,0.045),(0.028,0.007),(0.033,0.024),(0.034,0.052),
          (0.039,0.073),(0.041,0.005),(0.046,0.056),(0.049,0.028),(0.053,0.071),(0.057,0.043),
          (0.061,0.056),(0.064,0.088),(0.071,0.043),(0.076,0.084),(0.081,0.067),(0.086,0.099),
          (0.094,0.099),(0.104,0.084),(0.122,0.11)]

panel_points = [pts_a + dense_a + core_a, pts_b + dense_b + core_b,
                pts_c + dense_c + core_c, pts_d + dense_d + core_d,
                pts_e + dense_e + core_e, pts_f + dense_f + core_f,
                pts_g + dense_g + core_g, pts_h + dense_h + core_h]

# ---------------- style ----------------
sns.set_theme(style="ticks")
plt.rcParams["font.family"] = ["Liberation Serif", "DejaVu Serif"]
plt.rcParams["mathtext.fontset"] = "custom"
plt.rcParams["mathtext.rm"] = "Liberation Serif"
plt.rcParams["mathtext.it"] = "Liberation Serif:italic"
plt.rcParams["mathtext.bf"] = "Liberation Serif:bold"

palette = {">2": "#F8766D", "<2": "#00BFC4"}
spine_col = "#808080"

fig = plt.figure(figsize=(5.5, 10.68), dpi=100)

col_left = [62 / 550, 315 / 550]
ax_w = 220 / 550
row_px = [(22, 240), (280, 499), (545, 762), (803, 1020)]

for i in range(8):
    r, c = divmod(i, 2)
    top, bot = row_px[r]
    ax = fig.add_axes([col_left[c], 1 - bot / 1068, ax_w, (bot - top) / 1068])
    df = pd.DataFrame(panel_points[i], columns=["measured", "modeled"])
    sns.scatterplot(data=df, x="measured", y="modeled", color=palette[lai_group[i]],
                    s=14, alpha=0.62, linewidth=0, ax=ax, zorder=2)
    ax.axline((0, 0), slope=1, color="#8a8a8a", lw=0.9, ls=(0, (3, 2.5)), zorder=3)
    x0, y0, x1, y1 = fit_lines[i]
    fit_df = pd.DataFrame({"measured": [x0, x1], "modeled": [y0, y1]})
    sns.lineplot(data=fit_df, x="measured", y="modeled", color="#C00000", lw=1.4,
                 ax=ax, zorder=4)
    ax.set_xlim(0, 0.5)
    ax.set_ylim(0, 0.5)
    ax.set_xticks(tick_values)
    ax.set_xticklabels(tick_labels)
    ax.set_yticks(tick_values)
    ax.set_yticklabels(tick_labels)
    ax.tick_params(labelsize=7.6, colors="#333333", length=3, width=0.7, pad=1.5,
                   color=spine_col)
    for sp in ax.spines.values():
        sp.set_color(spine_col)
        sp.set_linewidth(0.9)
    ax.set_xlabel("")
    ax.set_ylabel("")
    ax.set_title(titles[i], fontsize=8.2, fontweight="bold", pad=4)
    lines = [equations[i], "R\u00b2 = " + r2_values[i], "RMSE = " + rmse_values[i],
             "N = " + n_values[i]]
    for k, t in enumerate(lines):
        ax.text(0.022, 0.474 - 0.038 * k, t, fontsize=8.0,
                color="#333333", va="center", ha="left")
    ax.text(0.398, 0.474, letters[i], fontsize=11, color="#222222", va="center",
            ha="center")

sans = ["Liberation Sans", "DejaVu Sans"]
fig.text(0.024, 1 - 272 / 1068, r"Modeled evapotranspiration by SW model (mm 0.5h$^{-1}$)",
         rotation=90, ha="center", va="center", fontsize=12, color="#222222",
         family=sans, math_fontfamily="dejavusans")
fig.text(0.024, 1 - 794 / 1068, r"Modeled evapotranspiration by CL model (mm 0.5h$^{-1}$)",
         rotation=90, ha="center", va="center", fontsize=12, color="#222222",
         family=sans, math_fontfamily="dejavusans")
fig.text(0.552, 1 - 1052 / 1068,
         r"Measured evapotranspiration by eddy covariance (mm 0.5h$^{-1}$)",
         ha="center", va="center", fontsize=11.2, color="#222222")

fig.savefig("out.png", dpi=100)
